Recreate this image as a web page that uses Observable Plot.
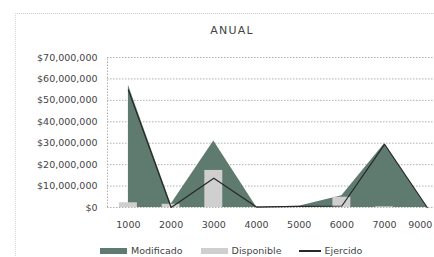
<!DOCTYPE html>
<html>
<head>
<meta charset="utf-8">
<script src="https://cdn.jsdelivr.net/npm/d3@7"></script>
<script src="https://cdn.jsdelivr.net/npm/@observablehq/plot@0.6"></script>
<style>
  html, body { margin: 0; padding: 0; background: #fff; }
  #wrap { position: relative; width: 434px; height: 257px; overflow: hidden; font-family: "DejaVu Sans", sans-serif; color: #444; }
  #frame { position: absolute; left: 15px; top: 13px; width: 440px; height: 260px; border-top: 1px dotted #c8c8c8; border-left: 1px dotted #d8d8d8; }
  #title { position: absolute; top: 24px; left: 182px; width: 100px; text-align: center; font-size: 11px; letter-spacing: 1.2px; color: #444; }
  #legend { position: absolute; top: 245px; left: 100px; font-size: 9.5px; color: #444; white-space: nowrap; display: flex; align-items: center; }
  .sw { display: inline-block; width: 27px; height: 6px; margin-right: 4px; }
  .ln { display: inline-block; width: 22px; height: 2px; margin-right: 3px; background: #2a2a2a; }
  .item { display: inline-flex; align-items: center; margin-right: 18px; }
  #chart { position: absolute; left: 0; top: 0; }
</style>
</head>
<body>
<div id="wrap">
  <div id="frame"></div>
  <div id="chart"></div>
  <div id="title">ANUAL</div>
  <div id="legend"></div>
</div>
<script>
const categorias = ["1000", "2000", "3000", "4000", "5000", "6000", "7000", "9000"];
const modificado = [57e6, 1.5e6, 31e6, 0.2e6, 0.6e6, 5.5e6, 29.8e6, 0];
const disponible = [2.2e6, 1.5e6, 17.3e6, 0, 0.1e6, 4.8e6, 0.3e6, 0];
const ejercido   = [54.8e6, 0, 13.7e6, 0.2e6, 0.5e6, 0.7e6, 29.5e6, 0];
const yTicks = [0, 10e6, 20e6, 30e6, 40e6, 50e6, 60e6, 70e6];
const series = ["Modificado", "Disponible", "Ejercido"];
const colores = ["#5f7b70", "#cfcfcf", "#262626"];

const rows = categorias.map((c, i) => ({
  i, cat: c, modificado: modificado[i], disponible: disponible[i], ejercido: ejercido[i]
}));

const xDomain = [-0.49, 7.17];
const fmt = d => "$" + d3.format(",")(d);
const idx = d3.range(categorias.length);

const chart = Plot.plot({
  width: 434,
  height: 257,
  marginLeft: 107,
  marginRight: 0,
  marginTop: 57,
  marginBottom: 50,
  x: {domain: xDomain, axis: null, label: null},
  y: {domain: [0, 70e6], axis: null, label: null},
  style: {fontFamily: "DejaVu Sans, sans-serif", fontSize: "9.5px", color: "#444", background: "transparent"},
  marks: [
    Plot.ruleY(yTicks, {stroke: "#b0b0b0", strokeDasharray: "1.5,1.5"}),
    Plot.ruleX([xDomain[0]], {y1: 0, y2: 70e6, stroke: "#b0b0b0", strokeDasharray: "1.5,1.5"}),
    Plot.areaY(rows, {x: "i", y: "modificado", fill: colores[0]}),
    Plot.rectY(rows, {x1: d => d.i - 0.21, x2: d => d.i + 0.21, y: "disponible", fill: colores[1]}),
    Plot.lineY(rows, {x: "i", y: "ejercido", stroke: colores[2], strokeWidth: 1.2}),
    Plot.axisY(yTicks, {tickSize: 0, tickPadding: 10, tickFormat: fmt, fill: "#444", label: null}),
    Plot.axisX(idx.slice(0, 7), {tickSize: 0, tickPadding: 14, tickFormat: i => categorias[i], fill: "#444", label: null}),
    Plot.axisX(idx.slice(7), {tickSize: 0, tickPadding: 14, tickFormat: i => categorias[i], fill: "#444", label: null, dx: -7})
  ]
});
document.getElementById("chart").appendChild(chart);

const legend = document.getElementById("legend");
series.forEach((s, k) => {
  const item = document.createElement("span");
  item.className = "item";
  const sw = document.createElement("span");
  if (k < 2) { sw.className = "sw"; sw.style.background = colores[k]; }
  else { sw.className = "ln"; }
  item.appendChild(sw);
  item.appendChild(document.createTextNode(s));
  legend.appendChild(item);
});
</script>
</body>
</html>
